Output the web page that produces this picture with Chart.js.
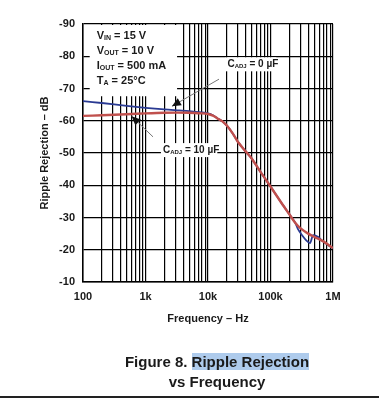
<!DOCTYPE html>
<html>
<head>
<meta charset="utf-8">
<script src="https://cdn.jsdelivr.net/npm/chart.js@4"></script>
<style>
  body { margin: 0; background: #fff; }
  #wrap { position: relative; width: 379px; height: 400px; }
  #caption {
    position: absolute; left: 0; top: 352px; width: 434px;
    text-align: center; font: bold 15px "Liberation Sans", Arial, sans-serif;
    line-height: 20px; color: #1a1a1a;
  }
  #caption .hl { background: #aecbec; }
  #rule { position: absolute; left: 0; top: 396px; width: 379px; height: 2px; background: #222; }
</style>
</head>
<body>
<div id="wrap">
  <canvas id="grafico" width="379" height="400"></canvas>
  <div id="caption">Figure 8. <span class="hl">Ripple Rejection</span><br>vs Frequency</div>
  <div id="rule"></div>
</div>
<script>
// Frecuencias y rechazo (dB)
const freqRed = [100, 200, 500, 1000, 2000, 5000, 8000, 10000, 12000, 14000, 17000, 20000, 25000,
  30000, 40000, 50000, 70000, 100000, 150000, 200000, 250000, 300000, 400000, 500000, 700000, 1000000];
const rejRed = [-61.5, -61.7, -62.0, -62.3, -62.5, -62.5, -62.3, -62.1, -61.6, -60.8, -59.8, -58.5, -56.0,
  -53.5, -50.5, -48.3, -44.0, -39.6, -34.5, -31.0, -28.3, -26.7, -25.0, -24.0, -22.6, -20.5];

const freqBlue = [100, 200, 500, 1000, 2000, 3500, 5000, 8000, 10000, 12000, 14000, 17000, 20000, 25000,
  30000, 40000, 50000, 70000, 100000, 150000, 200000, 250000, 275000, 320000, 370000, 430000, 480000,
  575000, 650000, 830000, 1000000];
const rejBlue = [-66.1, -65.5, -64.6, -64.0, -63.5, -63.2, -63.0, -62.6, -62.3, -61.7, -60.8, -59.8, -58.5, -56.0,
  -53.5, -50.5, -48.3, -44.0, -39.6, -34.5, -31.0, -28.3, -26.4, -24.5, -23.0, -22.1, -24.5,
  -24.0, -23.0, -21.5, -20.5];

// Ejes
const xMajor = [100, 1000, 10000, 100000, 1000000];
const xLabels = ['100', '1k', '10k', '100k', '1M'];
const yTicks = [-90, -80, -70, -60, -50, -40, -30, -20, -10];

// lineas de rejilla menores 2..9 de cada decada
const xGrid = [];
xMajor.forEach((m, i) => {
  xGrid.push(m);
  if (i < xMajor.length - 1) for (let k = 2; k <= 9; k++) xGrid.push(m * k);
});

const FONT = '"Liberation Sans", Arial, sans-serif';
const INK = '#1a1a1a';

// texto con subindice: base, sub, resto
function subText(ctx, x, y, base, sub, rest, size) {
  ctx.font = 'bold ' + size + 'px ' + FONT;
  ctx.fillText(base, x, y);
  x += ctx.measureText(base).width;
  ctx.font = 'bold ' + Math.round(size * 0.6) + 'px ' + FONT;
  ctx.fillText(sub, x, y + 2);
  x += ctx.measureText(sub).width;
  ctx.font = 'bold ' + size + 'px ' + FONT;
  ctx.fillText(rest, x, y);
  return x + ctx.measureText(rest).width;
}

function arrow(ctx, x1, y1, x2, y2) {
  ctx.strokeStyle = '#777';
  ctx.lineWidth = 1;
  ctx.beginPath();
  ctx.moveTo(x1, y1);
  ctx.lineTo(x2, y2);
  ctx.stroke();
  const a = Math.atan2(y2 - y1, x2 - x1);
  const L = 9, W = 4;
  ctx.fillStyle = '#111';
  ctx.beginPath();
  ctx.moveTo(x2, y2);
  ctx.lineTo(x2 - L * Math.cos(a) + W * Math.sin(a), y2 - L * Math.sin(a) - W * Math.cos(a));
  ctx.lineTo(x2 - L * Math.cos(a) - W * Math.sin(a), y2 - L * Math.sin(a) + W * Math.cos(a));
  ctx.closePath();
  ctx.fill();
}

const notas = {
  id: 'notas',
  beforeDatasetsDraw(chart) {
    const ctx = chart.ctx;
    const xs = chart.scales.x, ys = chart.scales.y;
    ctx.save();
    // caja de condiciones (sin tapar el borde superior)
    const bx = xs.getPixelForValue(128), by = ys.getPixelForValue(-90) + 1;
    const bx2 = xs.getPixelForValue(3200), by2 = ys.getPixelForValue(-67.6);
    ctx.fillStyle = '#fff';
    ctx.fillRect(bx, by, bx2 - bx, by2 - by);
    ctx.fillStyle = INK;
    ctx.textBaseline = 'middle';
    const lines = [['V', 'IN', ' = 15 V'], ['V', 'OUT', ' = 10 V'], ['I', 'OUT', ' = 500 mA'], ['T', 'A', ' = 25°C']];
    lines.forEach((l, i) => subText(ctx, bx + 7, by + 11 + i * 15, l[0], l[1], l[2], 11));

    // etiquetas C_ADJ
    const labs = [[20500, -77.5, ' = 0 µF'], [1900, -50.9, ' = 10 µF']];
    labs.forEach(([f, v, t]) => {
      const x = xs.getPixelForValue(f), y = ys.getPixelForValue(v);
      ctx.font = 'bold 10px ' + FONT;
      const w = ctx.measureText('C' + t).width + 12;
      ctx.fillStyle = '#fff';
      ctx.fillRect(x - 2, y - 7, w, 14);
      ctx.fillStyle = INK;
      subText(ctx, x, y, 'C', 'ADJ', t, 10);
    });
    ctx.restore();
  },
  afterDatasetsDraw(chart) {
    const ctx = chart.ctx;
    const xs = chart.scales.x, ys = chart.scales.y;
    ctx.save();
    arrow(ctx, xs.getPixelForValue(15000), ys.getPixelForValue(-72.9),
      xs.getPixelForValue(2650), ys.getPixelForValue(-64.5));
    arrow(ctx, xs.getPixelForValue(1320), ys.getPixelForValue(-55.0),
      xs.getPixelForValue(600), ys.getPixelForValue(-61.4));
    ctx.restore();
  }
};

new Chart(document.getElementById('grafico'), {
  type: 'line',
  data: {
    datasets: [
      // el primero se dibuja encima
      {
        label: 'CADJ = 10 µF',
        data: freqRed.map((f, i) => ({ x: f, y: rejRed[i] })),
        borderColor: '#c0504d',
        borderWidth: 2.4,
        pointRadius: 0,
        tension: 0.3
      },
      {
        label: 'CADJ = 0 µF',
        data: freqBlue.map((f, i) => ({ x: f, y: rejBlue[i] })),
        borderColor: '#2a3a92',
        borderWidth: 1.8,
        pointRadius: 0,
        tension: 0.3
      }
    ]
  },
  options: {
    responsive: false,
    animation: false,
    layout: { padding: { left: 0, right: 46, top: 24, bottom: 68 } },
    plugins: {
      legend: { display: false },
      tooltip: { enabled: false }
    },
    scales: {
      x: {
        type: 'logarithmic',
        min: 100,
        max: 1000000,
        afterBuildTicks: s => { s.ticks = xGrid.map(v => ({ value: v })); },
        afterFit: s => { s.height = 50; },
        ticks: {
          autoSkip: false,
          maxRotation: 0,
          padding: 8,
          color: INK,
          font: { family: FONT, size: 11, weight: 'bold' },
          callback: v => { const i = xMajor.indexOf(v); return i >= 0 ? xLabels[i] : ''; }
        },
        grid: { color: '#000', lineWidth: 1.2, drawTicks: false },
        border: { color: '#000', width: 1.5 },
        title: {
          display: true,
          text: 'Frequency – Hz',
          color: INK,
          font: { family: FONT, size: 11, weight: 'bold' },
          padding: { top: 0, bottom: 6 }
        }
      },
      y: {
        type: 'linear',
        min: -90,
        max: -10,
        reverse: true,
        afterBuildTicks: s => { s.ticks = yTicks.map(v => ({ value: v })); },
        afterFit: s => { s.width = 83; },
        ticks: {
          padding: 8,
          color: INK,
          font: { family: FONT, size: 11, weight: 'bold' }
        },
        grid: { color: '#000', lineWidth: 1.2, drawTicks: false },
        border: { color: '#000', width: 1.5 },
        title: {
          display: true,
          text: 'Ripple Rejection – dB',
          color: INK,
          font: { family: FONT, size: 11, weight: 'bold' },
          padding: { top: 38, bottom: 0 }
        }
      }
    }
  },
  plugins: [notas]
});
</script>
</body>
</html>
